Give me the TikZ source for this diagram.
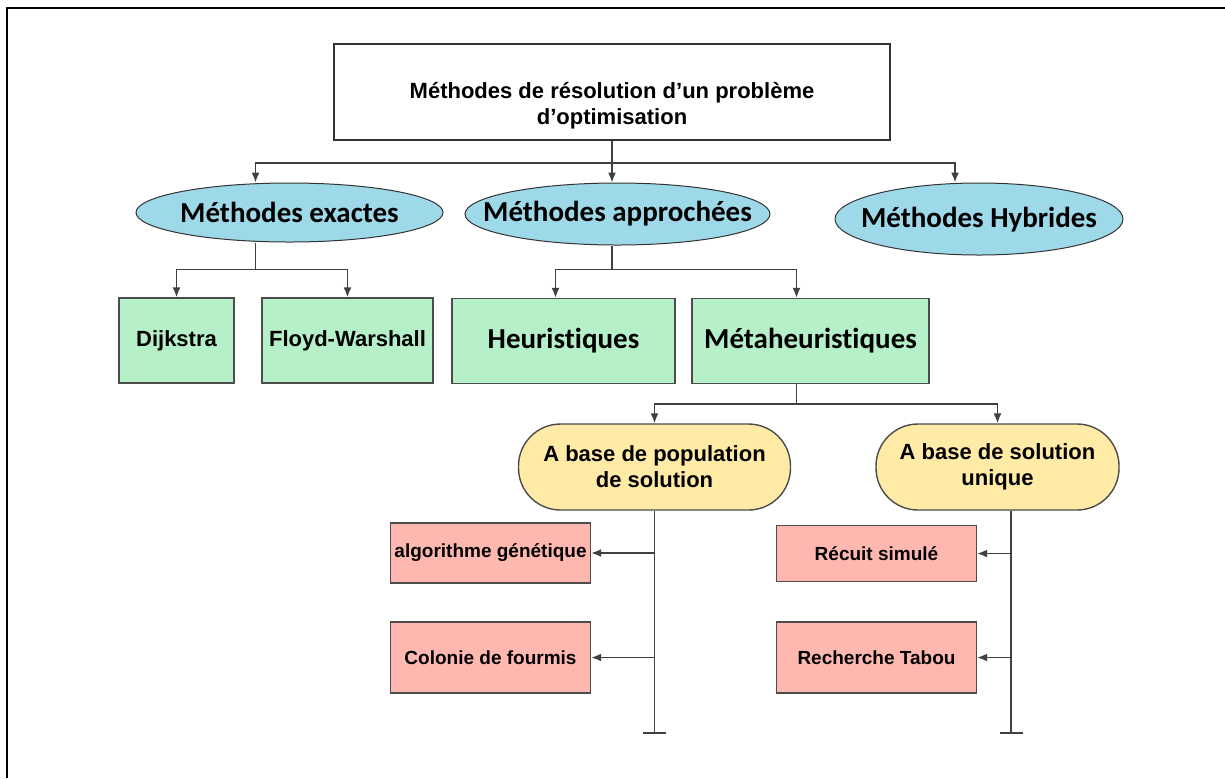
\documentclass[tikz,border=0pt]{standalone}
\usepackage{fontspec}
\setmainfont{Liberation Sans}
\newfontfamily\calfont[Ligatures=NoCommon, RawFeature=-liga]{Carlito}
\usetikzlibrary{shapes.geometric, arrows.meta}
\definecolor{ovalblue}{HTML}{9ED9EA}
\definecolor{boxgreen}{HTML}{B5F0C8}
\definecolor{pillyellow}{HTML}{FFEAA6}
\definecolor{boxpink}{HTML}{FFB8B0}
\newcommand{\ovaltxt}[1]{\makebox[0pt]{#1}}

\begin{document}
\begin{tikzpicture}[x=0.5pt, y=-0.5pt, font=\bfseries,
  line/.style={line width=0.8pt, draw=black!75},
  arr/.style={line, -{Latex[length=5pt,width=4pt]}},
  tee/.style={line, -{Bar[width=11.5pt]}},
  oval/.style={ellipse, draw=black!80, line width=0.5pt, fill=ovalblue, inner sep=0pt,
               font=\calfont\bfseries\fontsize{14.5}{16}\selectfont},
  greenbox/.style={draw=black!70, line width=0.7pt, fill=boxgreen, minimum height=42.5pt, inner sep=2pt},
  pill/.style={draw=black!70, line width=0.7pt, fill=pillyellow, rounded corners=21pt,
               minimum height=43pt, align=center, font=\bfseries\fontsize{11}{13}\selectfont},
  pinkbox/.style={draw=black!70, line width=0.7pt, fill=boxpink, minimum width=100pt,
                  inner xsep=1pt, font=\bfseries\fontsize{9.5}{11}\selectfont}]

\useasboundingbox (0,0) rectangle (1225,778);
\draw[line width=0.6pt] (1225,8) -- (7,8) -- (7,778);

% racine
\node[draw=black!80, line width=0.8pt, fill=white, minimum width=278pt, minimum height=48pt,
      font=\bfseries\fontsize{11}{13}\selectfont] (top) at (612,92)
      {\raisebox{-10pt}[0pt][0pt]{\begin{tabular}{@{}c@{}}Méthodes de résolution d’un problème\\ d’optimisation\end{tabular}}};

% familles
\node[oval, minimum width=153.5pt, minimum height=29.5pt] (exa) at (289.5,212.5) {\ovaltxt{Méthodes exactes}};
\node[oval, minimum width=152.5pt, minimum height=31pt] (app) at (617.5,214) {\ovaltxt{Méthodes approchées}};
\node[oval, minimum width=144pt, minimum height=36pt] (hyb) at (979,219) {\ovaltxt{\raisebox{-4pt}[0pt][0pt]{Méthodes Hybrides}}};

\draw[arr] (top.south) -- ++(0,22) -| ([xshift=-17pt]exa.north);
\draw[arr] (top.south) -- (top.south |- app.north);
\draw[arr] (top.south) -- ++(0,22) -| ([xshift=-12pt]hyb.north);

% exactes
\node[greenbox, minimum width=57.5pt, font=\bfseries\fontsize{11}{13}\selectfont] (dij) at (176.5,340.5) {Dijkstra};
\node[greenbox, minimum width=85.5pt, font=\bfseries\fontsize{11}{13}\selectfont] (floyd) at (347.5,340.5) {Floyd-Warshall};

\draw[line] ([xshift=-17pt]exa.south) -- ++(0,27) coordinate (e1);
\draw[arr] (e1) -| (dij.north);
\draw[arr] (e1) -| (floyd.north);

% approchees
\node[greenbox, minimum width=111.5pt, font=\calfont\bfseries\fontsize{14.5}{16}\selectfont] (heu) at (563.5,341) {Heuristiques};
\node[greenbox, minimum width=118.5pt, font=\calfont\bfseries\fontsize{14.5}{16}\selectfont] (meta) at (810.5,341) {Métaheuristiques};

\draw[line] (top.south |- app.south) -- ++(0,24) coordinate (a1);
\draw[arr] (a1) -| ([xshift=-4pt]heu.north);
\draw[arr] (a1) -| ([xshift=-7pt]meta.north);

% metaheuristiques
\node[pill, minimum width=136pt] (pop) at (654.5,467) {A base de population\\ de solution};
\node[pill, minimum width=121.5pt] (uniq) at (997.5,467) {A base de solution\\ unique};

\draw[line] ([xshift=-7pt]meta.south) -- ++(0,20) coordinate (m1);
\draw[arr] (m1) -| (pop.north);
\draw[arr] (m1) -| (uniq.north);

% population
\node[pinkbox, minimum height=30pt] (ag) at (490.5,553) {algorithme génétique};
\node[pinkbox, minimum height=35.5pt] (fourmi) at (490.5,657.5) {Colonie de fourmis};

\draw[tee] (pop.south) -- ++(0,223) coordinate (p1);
\draw[arr] (pop.south |- ag.east) -- (ag.east);
\draw[arr] (pop.south |- fourmi.east) -- (fourmi.east);

% solution unique
\node[pinkbox, minimum height=28pt] (recuit) at (876.5,553.5) {Récuit simulé};
\node[pinkbox, minimum height=35.5pt] (tabou) at (876.5,657.5) {Recherche Tabou};

\draw[tee] ([xshift=6.75pt]uniq.south) -- ++(0,223) coordinate (u1);
\draw[arr] ([xshift=6.75pt]uniq.south |- recuit.east) -- (recuit.east);
\draw[arr] ([xshift=6.75pt]uniq.south |- tabou.east) -- (tabou.east);
\end{tikzpicture}
\end{document}
